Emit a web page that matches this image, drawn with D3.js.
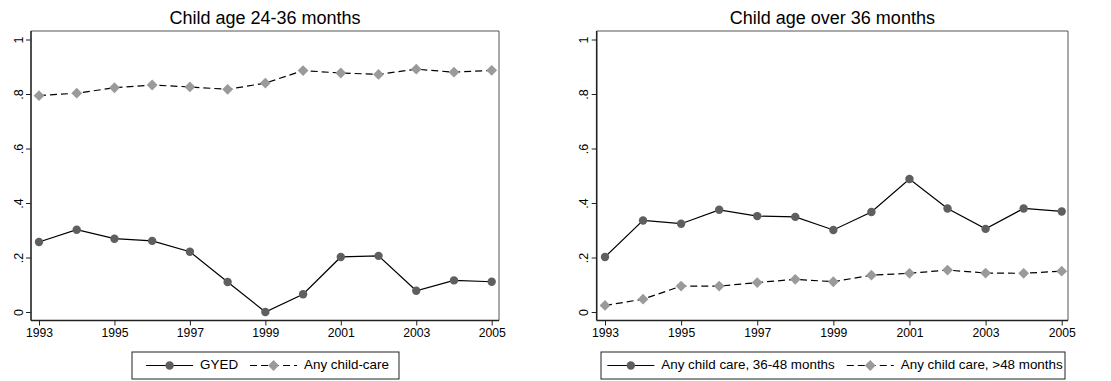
<!DOCTYPE html>
<html>
<head>
<meta charset="utf-8">
<script src="https://cdn.jsdelivr.net/npm/d3@7"></script>
<style>
  html, body { margin: 0; padding: 0; background: #fff; }
  svg { display: block; font-family: "Liberation Sans", Arial, sans-serif; }
</style>
</head>
<body>
<svg id="chart" width="1111" height="381"></svg>
<script>
// Survey years
const years = [1993, 1994, 1995, 1996, 1997, 1998, 1999, 2000, 2001, 2002, 2003, 2004, 2005];
const yearTicks = [1993, 1995, 1997, 1999, 2001, 2003, 2005];
const yTicks = [0, 0.2, 0.4, 0.6, 0.8, 1];
const yTickLabels = ["0", ".2", ".4", ".6", ".8", "1"];

// Child age 24-36 months
const gyed = [0.257, 0.302, 0.269, 0.261, 0.221, 0.110, 0.000, 0.065, 0.202, 0.206, 0.078, 0.116, 0.111];
const anyChildCare = [0.794, 0.803, 0.823, 0.833, 0.826, 0.817, 0.840, 0.886, 0.877, 0.872, 0.891, 0.880, 0.887];

// Child age over 36 months
const care36to48 = [0.202, 0.336, 0.324, 0.375, 0.352, 0.349, 0.301, 0.367, 0.488, 0.380, 0.305, 0.380, 0.369];
const careOver48 = [0.024, 0.047, 0.095, 0.095, 0.108, 0.120, 0.111, 0.135, 0.142, 0.154, 0.143, 0.142, 0.150];

const panels = [
  {
    title: "Child age 24-36 months",
    frame: { left: 31, right: 499, top: 31, bottom: 320.5 },
    xRange: [39, 491.7],
    series: [
      { name: "GYED", values: gyed, kind: "solid" },
      { name: "Any child-care", values: anyChildCare, kind: "dashed" }
    ],
    legend: { left: 132, right: 399, top: 352, bottom: 379 }
  },
  {
    title: "Child age over 36 months",
    frame: { left: 596.7, right: 1068, top: 31, bottom: 320.5 },
    xRange: [605, 1061.7],
    series: [
      { name: "Any child care, 36-48 months", values: care36to48, kind: "solid" },
      { name: "Any child care, >48 months", values: careOver48, kind: "dashed" }
    ],
    legend: { left: 601, right: 1065, top: 352, bottom: 379 }
  }
];

const styles = {
  solid: { dash: null, marker: "circle", fill: "#5f5f5f" },
  dashed: { dash: "7,4", marker: "diamond", fill: "#9a9a9a" }
};

const svg = d3.select("#chart");

function drawMarker(g, type, x, y, fill) {
  if (type === "circle") {
    g.append("circle").attr("cx", x).attr("cy", y).attr("r", 4.2).attr("fill", fill);
  } else {
    const s = 5.4;
    g.append("path")
      .attr("d", `M${x},${y - s}L${x + s},${y}L${x},${y + s}L${x - s},${y}Z`)
      .attr("fill", fill);
  }
}

panels.forEach(p => {
  const g = svg.append("g");
  const f = p.frame;
  const x = d3.scaleLinear().domain([1993, 2005]).range(p.xRange);
  const y = d3.scaleLinear().domain([0, 1]).range([312, 39.5]);

  // Title
  g.append("text")
    .attr("x", (f.left + f.right) / 2).attr("y", 24)
    .attr("text-anchor", "middle")
    .attr("font-size", 18)
    .attr("fill", "#000")
    .text(p.title);

  // Plot region outline (top/right)
  g.append("path")
    .attr("d", `M${f.left},${f.top}H${f.right}V${f.bottom}`)
    .attr("fill", "none").attr("stroke", "#555").attr("stroke-width", 1);

  // Y axis
  const yAxis = d3.axisLeft(y)
    .tickValues(yTicks)
    .tickFormat((d, i) => yTickLabels[i])
    .tickSize(5).tickPadding(6);
  const ya = g.append("g").attr("transform", `translate(${f.left},0)`).call(yAxis);
  ya.select(".domain").attr("d", `M0,${f.top}V${f.bottom}`).attr("stroke", "#222").attr("stroke-width", 1.6);
  ya.selectAll(".tick line").attr("stroke", "#222");
  ya.selectAll(".tick text")
    .attr("font-size", 12.5).attr("fill", "#000")
    .attr("font-family", "Liberation Sans, Arial, sans-serif")
    .attr("text-anchor", "middle")
    .attr("x", null).attr("dy", null)
    .attr("transform", "translate(-11.5,0) rotate(-90)")
    .attr("y", 0)
    .attr("dominant-baseline", "middle");

  // X axis
  const xAxis = d3.axisBottom(x)
    .tickValues(yearTicks)
    .tickFormat(d3.format("d"))
    .tickSize(5).tickPadding(3);
  const xa = g.append("g").attr("transform", `translate(0,${f.bottom})`).call(xAxis);
  xa.select(".domain").attr("d", `M${f.left},0H${f.right}`).attr("stroke", "#222").attr("stroke-width", 1.6);
  xa.selectAll(".tick line").attr("stroke", "#222");
  xa.selectAll(".tick text")
    .attr("font-size", 12.2).attr("fill", "#000")
    .attr("font-family", "Liberation Sans, Arial, sans-serif");

  // Series
  p.series.forEach(s => {
    const st = styles[s.kind];
    const pts = years.map((yr, i) => [x(yr), y(s.values[i])]);
    g.append("path")
      .attr("d", d3.line()(pts))
      .attr("fill", "none")
      .attr("stroke", "#000")
      .attr("stroke-width", 1.2)
      .attr("stroke-dasharray", st.dash);
    const mg = g.append("g");
    pts.forEach(pt => drawMarker(mg, st.marker, pt[0], pt[1], st.fill));
  });

  // Legend: key items laid out in a row, centred in the box
  const L = p.legend;
  const lg = g.append("g");
  lg.append("rect")
    .attr("x", L.left).attr("y", L.top)
    .attr("width", L.right - L.left).attr("height", L.bottom - L.top)
    .attr("fill", "#fff").attr("stroke", "#222").attr("stroke-width", 1);
  const cy = (L.top + L.bottom) / 2;
  const items = lg.append("g");
  let cx = 0;
  const len = 47, gapText = 7, gapItem = 12;
  p.series.forEach((s, i) => {
    const st = styles[s.kind];
    items.append("line")
      .attr("x1", cx).attr("x2", cx + len).attr("y1", cy).attr("y2", cy)
      .attr("stroke", "#000").attr("stroke-width", 1.2)
      .attr("stroke-dasharray", st.dash ? "7,4" : null);
    drawMarker(items, st.marker, cx + len / 2, cy, st.fill);
    const t = items.append("text")
      .attr("x", cx + len + gapText).attr("y", cy)
      .attr("dominant-baseline", "middle")
      .attr("font-size", 13.4).attr("fill", "#000")
      .text(s.name);
    cx = cx + len + gapText + t.node().getComputedTextLength();
    if (i < p.series.length - 1) cx += gapItem;
  });
  const offset = (L.left + L.right) / 2 - cx / 2 + 2;
  items.attr("transform", `translate(${offset},0)`);
});
</script>
</body>
</html>
